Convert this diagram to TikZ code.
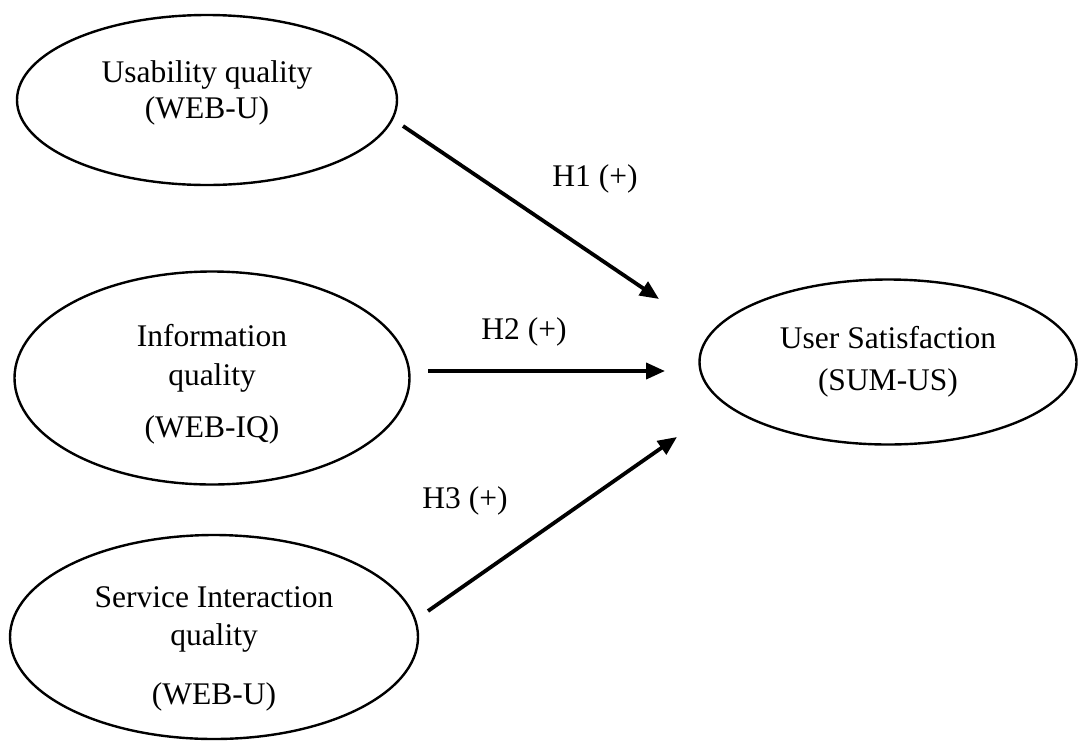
\documentclass[tikz,border=0pt]{standalone}
\usepackage{fontspec}
\setmainfont{Liberation Serif}
\usetikzlibrary{shapes.geometric,arrows.meta}
\begin{document}
\begin{tikzpicture}[x=1pt,y=-1pt,
  construct/.style={draw,ellipse,line width=2.4pt,inner sep=0pt},
  word/.style={anchor=base,inner sep=0pt,font=\fontsize{31.5}{38}\selectfont},
  path/.style={line width=3.8pt,-{Triangle[length=19pt,width=16pt]}}]
\useasboundingbox (0,0) rectangle (1079,740);
% constructs
\node[construct,minimum width=380pt,minimum height=170pt] (usab) at (207,100) {};
\node[construct,minimum width=395pt,minimum height=213pt] (info) at (212,378) {};
\node[construct,minimum width=408pt,minimum height=204pt] (serv) at (214,637) {};
\node[construct,minimum width=377pt,minimum height=165pt] (sat) at (888,362) {};
% construct names
\node[word] (usab1) at (207,82)  {Usability quality};
\node[word] (usab2) at (207,118) {(WEB-U)};
\node[word] (info1) at (212,346) {Information};
\node[word] (info2) at (212,385) {quality};
\node[word] (info3) at (212,437) {(WEB-IQ)};
\node[word] (serv1) at (214,607) {Service Interaction};
\node[word] (serv2) at (214,645) {quality};
\node[word] (serv3) at (214,704) {(WEB-U)};
\node[word] (sat1) at (888,348) {User Satisfaction};
\node[word] (sat2) at (888,390) {(SUM-US)};
% arrow end points
\coordinate (s1) at (403,126);
\coordinate (t1) at (659,299);
\coordinate (s2) at (428,371);
\coordinate (t2) at (665,371);
\coordinate (s3) at (428,611);
\coordinate (t3) at (677,437);
\draw[path] (s1) -- (t1);
\draw[path] (s2) -- (t2);
\draw[path] (s3) -- (t3);
% hypothesis labels
\node[word] (h1) at (595,186) {H1 (+)};
\node[word] (h2) at (524,339) {H2 (+)};
\node[word] (h3) at (465,508) {H3 (+)};
\end{tikzpicture}
\end{document}
